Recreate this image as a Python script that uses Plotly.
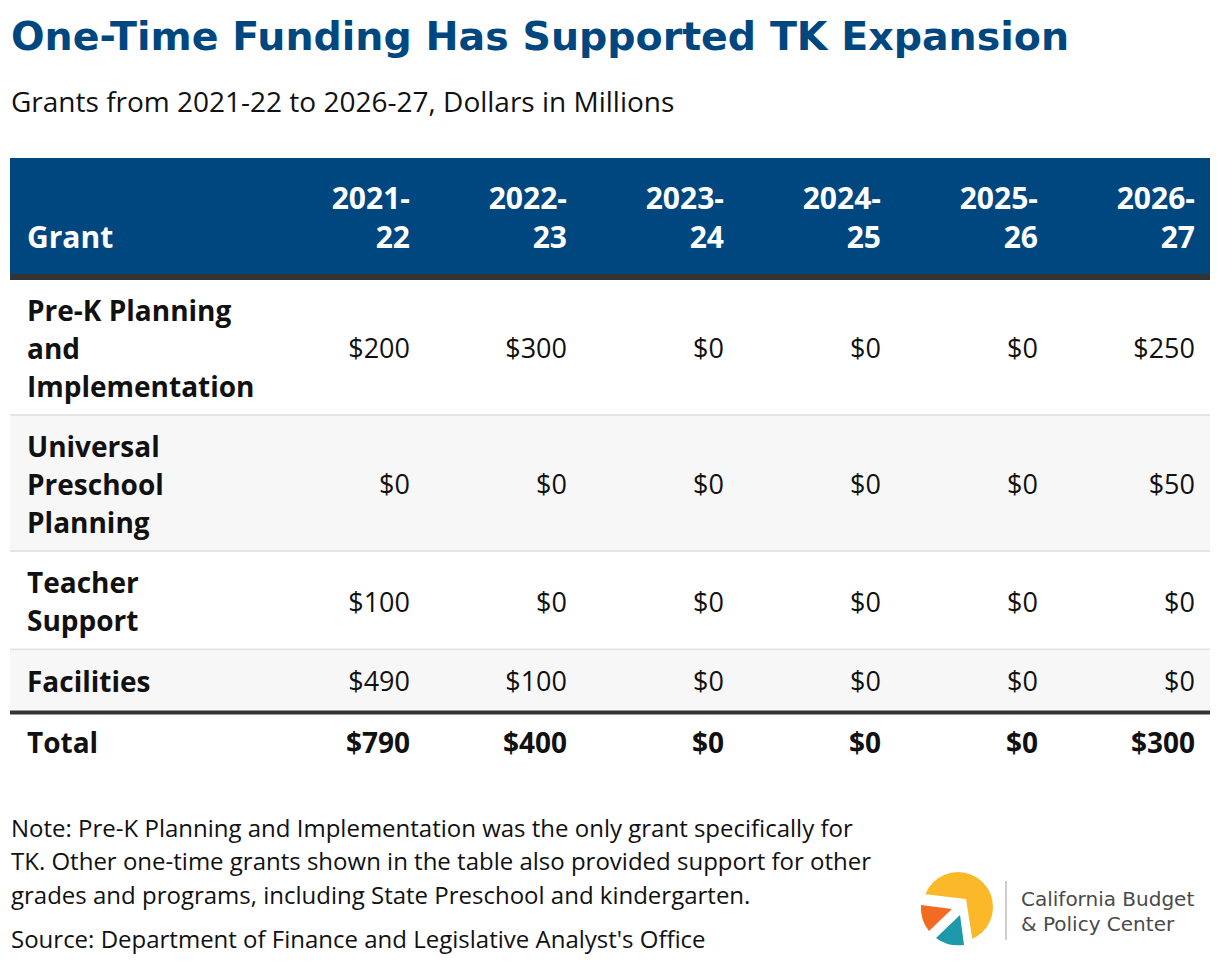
import plotly.graph_objects as go

# ---------------- data ----------------
grants = ["Pre-K Planning<br>and<br>Implementation",
          "Universal<br>Preschool<br>Planning",
          "Teacher<br>Support",
          "Facilities"]
year_labels = ["2021-<br>22", "2022-<br>23", "2023-<br>24", "2024-<br>25", "2025-<br>26", "2026-<br>27"]
pre_k = [200, 300, 0, 0, 0, 250]
universal_preschool = [0, 0, 0, 0, 0, 50]
teacher_support = [100, 0, 0, 0, 0, 0]
facilities = [490, 100, 0, 0, 0, 0]
totals = [790, 400, 0, 0, 0, 300]
rows = [pre_k, universal_preschool, teacher_support, facilities]

title = "One-Time Funding Has Supported TK Expansion"
subtitle = "Grants from 2021-22 to 2026-27, Dollars in Millions"
note_lines = ["Note: Pre-K Planning and Implementation was the only grant specifically for",
              "TK. Other one-time grants shown in the table also provided support for other",
              "grades and programs, including State Preschool and kindergarten."]
source = "Source: Department of Finance and Legislative Analyst's Office"

# ---------------- style / layout constants ----------------
OFF = 8                      # page body margin
W, H = 1220 - 2 * OFF, 966 - 2 * OFF
FONT = "Open Sans"
TFONT = "DejaVu Sans"
BLUE = "#00477f"
TABLE_L, TABLE_R = 10, 1210
PAD = 16
FIRST_COL_W = 258
COL_W = (TABLE_R - TABLE_L - FIRST_COL_W) / len(year_labels)
LINE_H = 38          # text line spacing
ROW_LINE = 37.5      # row height per line
ROW_EXTRA = 22.5
HEADER_TOP, HEADER_BOT = 158, 274
HEADER_BORDER = 6
TOTAL_BORDER = 4
DY = 4               # vertical text nudge

def fmt(v):
    return f"${v:,}"

col_right = [TABLE_L + FIRST_COL_W + COL_W * (i + 1) - PAD + 1 for i in range(len(year_labels))]
label_x = TABLE_L + PAD + 1

fig = go.Figure()
shapes = []

# header
shapes.append(dict(type="rect", x0=TABLE_L, x1=TABLE_R, y0=HEADER_TOP, y1=HEADER_BOT,
                   fillcolor=BLUE, line=dict(width=0), layer="below"))
shapes.append(dict(type="rect", x0=TABLE_L, x1=TABLE_R, y0=HEADER_BOT, y1=HEADER_BOT + HEADER_BORDER,
                   fillcolor="#333333", line=dict(width=0), layer="below"))

hx, hy, ht, hp = [], [], [], []
head_last = HEADER_BOT - 37 + 3
hx.append(label_x); hy.append(head_last); ht.append("Grant"); hp.append("middle right")
for i, lab in enumerate(year_labels):
    parts = lab.split("<br>")
    n = len(parts)
    for k, p in enumerate(parts):
        hx.append(col_right[i]); hy.append(head_last - (n - 1 - k) * 39); ht.append(p); hp.append("middle left")
fig.add_trace(go.Scatter(x=hx, y=hy, text=ht, mode="text", textposition=hp,
                         textfont=dict(family=FONT, size=30, color="white", weight="bold"),
                         hoverinfo="skip", showlegend=False))

# body rows
y = HEADER_BOT + HEADER_BORDER
lx, ly, lt = [], [], []
vx, vy, vt = [], [], []
for r, (g, vals) in enumerate(zip(grants, rows)):
    parts = g.split("<br>")
    n = len(parts)
    h = ROW_LINE * n + ROW_EXTRA
    fill = "#ffffff" if r % 2 == 0 else "#f7f7f7"
    shapes.append(dict(type="rect", x0=TABLE_L, x1=TABLE_R, y0=y, y1=y + h,
                       fillcolor=fill, line=dict(width=0), layer="below"))
    if r < len(rows) - 1:
        shapes.append(dict(type="line", x0=TABLE_L, x1=TABLE_R, y0=y + h, y1=y + h,
                           line=dict(color="#e4e4e4", width=2), layer="below"))
    c = y + h / 2 + DY
    for k, p in enumerate(parts):
        lx.append(label_x); ly.append(c + (k - (n - 1) / 2) * LINE_H); lt.append(p)
    for i, v in enumerate(vals):
        vx.append(col_right[i]); vy.append(c); vt.append(fmt(v))
    y += h + 1

shapes.append(dict(type="rect", x0=TABLE_L, x1=TABLE_R, y0=y - 1, y1=y - 1 + TOTAL_BORDER,
                   fillcolor="#333333", line=dict(width=0), layer="below"))
ty = y - 1 + TOTAL_BORDER + (ROW_LINE + ROW_EXTRA) / 2 + 1

fig.add_trace(go.Scatter(x=lx, y=ly, text=lt, mode="text", textposition="middle right",
                         textfont=dict(family=FONT, size=28, color="#111111", weight="bold"),
                         hoverinfo="skip", showlegend=False))
fig.add_trace(go.Scatter(x=vx, y=vy, text=vt, mode="text", textposition="middle left",
                         textfont=dict(family=FONT, size=27, color="#111111"),
                         hoverinfo="skip", showlegend=False))
tx = [label_x] + col_right
tyy = [ty] * (len(totals) + 1)
ttxt = ["Total"] + [fmt(v) for v in totals]
tpos = ["middle right"] + ["middle left"] * len(totals)
fig.add_trace(go.Scatter(x=tx, y=tyy, text=ttxt, mode="text", textposition=tpos,
                         textfont=dict(family=FONT, size=28, color="#111111", weight="bold"),
                         hoverinfo="skip", showlegend=False))

annotations = [
    dict(x=9, y=36, text=f"<b>{title}</b>", xanchor="left", yanchor="middle", showarrow=False,
         font=dict(family=TFONT, size=39.5, color=BLUE)),
    dict(x=9, y=101, text=subtitle, xanchor="left", yanchor="middle", showarrow=False,
         font=dict(family=FONT, size=28, color="#111111")),
]
for k, line in enumerate(note_lines):
    annotations.append(dict(x=9, y=827 + k * 33.5, text=line, xanchor="left", yanchor="middle",
                            showarrow=False, font=dict(family=FONT, size=24, color="#111111")))
annotations.append(dict(x=9, y=938, text=source, xanchor="left", yanchor="middle",
                        showarrow=False, font=dict(family=FONT, size=24, color="#111111")))
annotations.append(dict(x=1019, y=899, text="California Budget", xanchor="left", yanchor="middle",
                        showarrow=False, font=dict(family=TFONT, size=20, color="#4a4a4a")))
annotations.append(dict(x=1019, y=924, text="&amp; Policy Center", xanchor="left", yanchor="middle",
                        showarrow=False, font=dict(family=TFONT, size=20, color="#4a4a4a")))

# logo graphic
shapes += [
    dict(type="circle", x0=923, x1=993, y0=872, y1=942, fillcolor="#fbb829", line=dict(width=0)),
    dict(type="path", path="M 915,893 L 966,899 L 974,950 L 915,950 Z", fillcolor="white", line=dict(width=0)),
    dict(type="path", path="M 952,909 L 921,905 Q 920,920 929,931 Z", fillcolor="#f26b23", line=dict(width=0)),
    dict(type="path", path="M 960,915 L 936,938 Q 948,947 964,945 Z", fillcolor="#1c9aa9", line=dict(width=0)),
    dict(type="line", x0=1006, x1=1006, y0=881, y1=940, line=dict(color="#bdbdbd", width=1.5)),
]

fig.update_layout(
    width=W, height=H, margin=dict(l=0, r=0, t=0, b=0),
    paper_bgcolor="white", plot_bgcolor="white",
    xaxis=dict(range=[OFF, OFF + W], visible=False, fixedrange=True),
    yaxis=dict(range=[OFF + H, OFF], visible=False, fixedrange=True),
    shapes=shapes, annotations=annotations,
)
fig.write_html("out.html", config={"displayModeBar": False})
